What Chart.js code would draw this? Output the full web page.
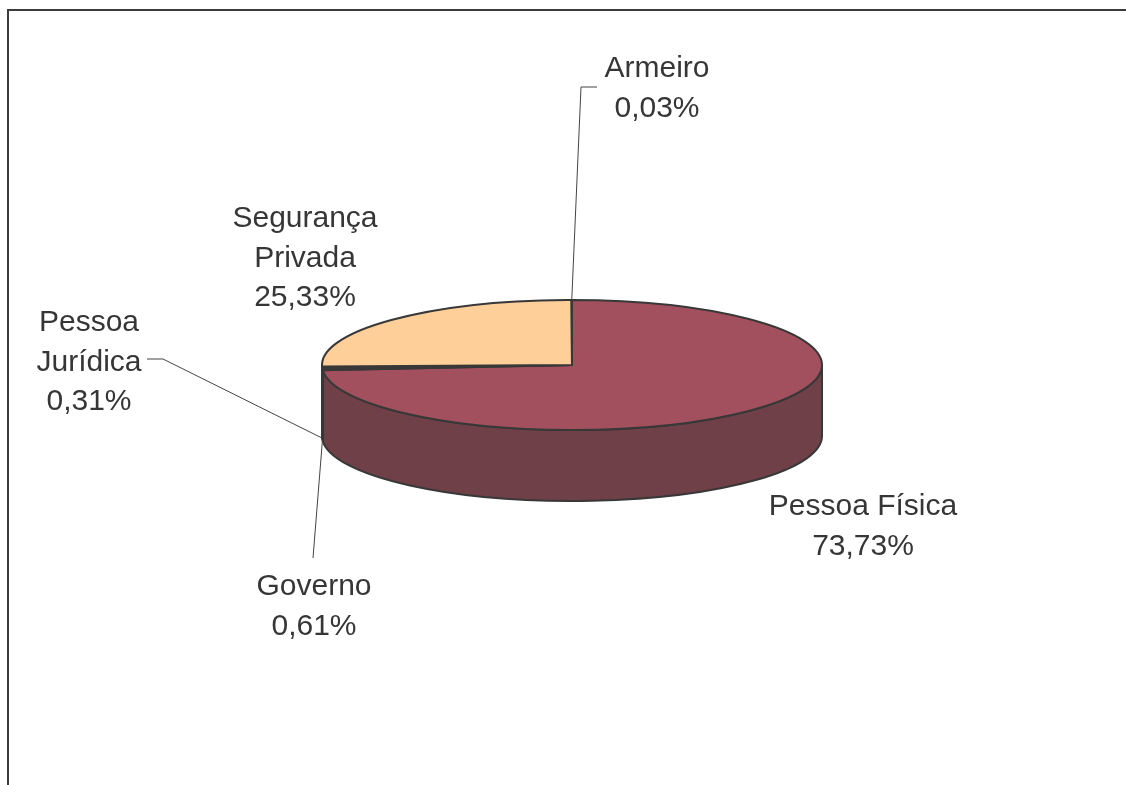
<!DOCTYPE html>
<html lang="pt">
<head>
  <meta charset="UTF-8">
  <title>Distribuição por tipo de proprietário</title>
  <script src="https://cdn.jsdelivr.net/npm/chart.js@4.4.0/dist/chart.umd.min.js"></script>
  <style>
    body { margin: 0; background: #fff; }
    #wrap { position: relative; width: 1126px; height: 785px; overflow: hidden; }
    #frame { position: absolute; left: 7px; top: 9px; width: 1300px; height: 1000px;
             border-top: 2px solid #3c3c3c; border-left: 2px solid #3c3c3c; }
    #myChart { position: absolute; left: 0; top: 0; }
  </style>
</head>
<body>
  <div id="wrap">
    <div id="frame"></div>
    <canvas id="myChart" width="1126" height="785"></canvas>
  </div>
  <script>
    // data, in the order the slices run clockwise from 12 o'clock
    const categories = ['Pessoa Física', 'Governo', 'Pessoa Jurídica', 'Segurança Privada', 'Armeiro'];
    const labelLines = [['Pessoa Física'], ['Governo'], ['Pessoa', 'Jurídica'], ['Segurança', 'Privada'], ['Armeiro']];
    const shares = [73.73, 0.61, 0.31, 25.33, 0.03];

    const topColors = ['#A3505E', '#4a3848', '#3a3a3a', '#FECF99', '#3a3a3a'];
    const sideColors = ['#6F4048', '#3a2a36', '#2e2e2e', '#C9A079', '#2e2e2e'];

    // label placement relative to the pie centre (first baseline, centred text)
    const labelPlacement = [
      { dx: 291, dy: 150 },
      { dx: -258, dy: 230, leader: [[-259, 193]] },
      { dx: -483, dy: -34, leader: [[-409, -6], [-425, -6]] },
      { dx: -267, dy: -138 },
      { dx: 85, dy: -288, leader: [[9, -278], [25, -278]] }
    ];

    const TILT = 0.26;   // ellipse height / width
    const DEPTH = 0.284; // side wall height / radius
    const OUTLINE = '#383838';

    function pct(v) {
      return v.toFixed(2).replace('.', ',') + '%';
    }

    function geometry(chart) {
      const arc = chart.getDatasetMeta(0).data[0];
      const r = arc.outerRadius;
      return { cx: arc.x, cy: arc.y, rx: r, ry: r * TILT, depth: r * DEPTH };
    }

    const pie3d = {
      id: 'pie3d',
      beforeDatasetsDraw(chart) {
        const ctx = chart.ctx;
        const g = geometry(chart);
        const arcs = chart.getDatasetMeta(0).data;
        ctx.save();
        ctx.lineJoin = 'round';
        ctx.lineWidth = 2;
        ctx.strokeStyle = OUTLINE;

        // side walls (front half only)
        arcs.forEach((arc, i) => {
          const a = Math.max(arc.startAngle, 0);
          const b = Math.min(arc.endAngle, Math.PI);
          if (a >= b) return;
          ctx.beginPath();
          ctx.ellipse(g.cx, g.cy, g.rx, g.ry, 0, a, b);
          ctx.lineTo(g.cx + g.rx * Math.cos(b), g.cy + g.ry * Math.sin(b) + g.depth);
          ctx.ellipse(g.cx, g.cy + g.depth, g.rx, g.ry, 0, b, a, true);
          ctx.closePath();
          ctx.fillStyle = sideColors[i];
          ctx.fill();
          ctx.stroke();
        });

        // top faces
        arcs.forEach((arc, i) => {
          ctx.beginPath();
          ctx.moveTo(g.cx, g.cy);
          ctx.ellipse(g.cx, g.cy, g.rx, g.ry, 0, arc.startAngle, arc.endAngle);
          ctx.closePath();
          ctx.fillStyle = topColors[i];
          ctx.fill();
          ctx.stroke();
        });
        ctx.restore();
        return false;
      },
      afterDraw(chart) {
        const ctx = chart.ctx;
        const g = geometry(chart);
        const arcs = chart.getDatasetMeta(0).data;
        ctx.save();

        // leader lines
        ctx.strokeStyle = '#444';
        ctx.lineWidth = 1;
        arcs.forEach((arc, i) => {
          const p = labelPlacement[i];
          if (!p.leader) return;
          const mid = (arc.startAngle + arc.endAngle) / 2;
          let x = g.cx + g.rx * Math.cos(mid);
          let y = g.cy + g.ry * Math.sin(mid);
          if (Math.sin(mid) > 0) y += g.depth;
          ctx.beginPath();
          ctx.moveTo(x, y);
          p.leader.forEach(pt => ctx.lineTo(g.cx + pt[0], g.cy + pt[1]));
          ctx.stroke();
        });

        // labels
        ctx.fillStyle = '#363636';
        ctx.font = '30px "Liberation Sans", Arial, sans-serif';
        ctx.textAlign = 'center';
        ctx.textBaseline = 'alphabetic';
        const lineHeight = 39.5;
        arcs.forEach((arc, i) => {
          const p = labelPlacement[i];
          const lines = labelLines[i].concat([pct(shares[i])]);
          lines.forEach((t, k) => {
            ctx.fillText(t, g.cx + p.dx, g.cy + p.dy + k * lineHeight);
          });
        });
        ctx.restore();
      }
    };

    const ctx = document.getElementById('myChart').getContext('2d');
    new Chart(ctx, {
      type: 'pie',
      data: {
        labels: categories,
        datasets: [{
          data: shares,
          backgroundColor: topColors,
          borderWidth: 0
        }]
      },
      options: {
        responsive: false,
        animation: false,
        devicePixelRatio: 1,
        rotation: 0,
        layout: { padding: { left: 322, right: 304, top: 115, bottom: 170 } },
        plugins: {
          legend: { display: false },
          tooltip: { enabled: false }
        }
      },
      plugins: [pie3d]
    });
  </script>
</body>
</html>
